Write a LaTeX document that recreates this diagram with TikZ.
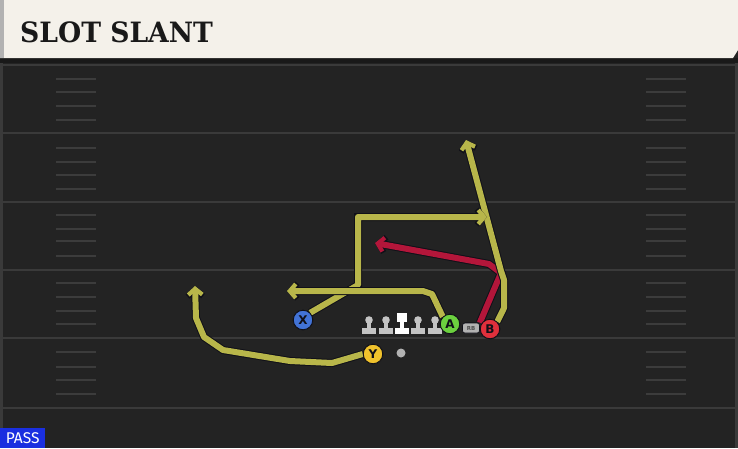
\documentclass[tikz,border=0pt]{standalone}
\usepackage{fontspec}
\setmainfont{DejaVu Sans}
\newfontfamily\titlefont{DejaVu Serif}
\newfontfamily\passfont{Fira Sans}
\usetikzlibrary{arrows.meta}
\definecolor{fieldbg}{HTML}{232323}
\definecolor{yardc}{HTML}{3A3A3A}
\definecolor{hashc}{HTML}{3C3C3C}
\definecolor{cream}{HTML}{F4F1EA}
\definecolor{routey}{HTML}{B8B64A}
\definecolor{router}{HTML}{B3163A}
\definecolor{outl}{HTML}{101018}
\definecolor{pblue}{HTML}{4273D6}
\definecolor{pgreen}{HTML}{6CD13F}
\definecolor{pred}{HTML}{E0303C}
\definecolor{pyellow}{HTML}{F0C22C}
\definecolor{passblue}{HTML}{1A2FE0}
\definecolor{linec}{HTML}{C4C4C4}
\tikzset{
  route/.style={line width=6pt, line join=round, -{Straight Barb[length=6pt,width=14pt,line width=4.2pt]},
    preaction={draw=outl, line width=8pt, -{Straight Barb[length=6.5pt,width=15.5pt,line width=5.8pt]}}},
  yroute/.style={route, draw=routey},
  rroute/.style={route, draw=router},
  player/.style={circle, draw=outl, line width=0.9pt, minimum size=19.5pt, inner sep=0pt, font=\bfseries\fontsize{12}{12}\selectfont, text=outl},
  rbbox/.style={fill=gray!60, draw=outl, line width=0.6pt, rounded corners=2.5pt, minimum width=17pt, minimum height=10pt, inner sep=0pt, font=\bfseries\fontsize{5.5}{5.5}\selectfont, text=black!70},
  yardline/.style={draw=yardc, line width=2pt},
  hashmark/.style={draw=hashc, line width=1.6pt},
  lineman/.style={fill=linec}
}
\begin{document}
\begin{tikzpicture}[x=1pt,y=-1pt]
\useasboundingbox (0,0) rectangle (738,448);
% field
\fill[fieldbg] (0,0) rectangle (738,448);
\fill[yardc] (0,58) rectangle (3,448);
\fill[yardc] (735,58) rectangle (738,448);
% yard lines
\foreach \y in {133,202,270,338,408} \draw[yardline] (0,\y) -- (738,\y);
\draw[yardline] (0,65) -- (738,65);
% hash marks
\foreach \y in {79,92,106,120,148,162,175,189,215,229,241,256,283,297,311,324,352,367,380,394} {
  \draw[hashmark] (56,\y) -- (96,\y);
  \draw[hashmark] (646,\y) -- (686,\y);
}
% header
\fill[black!90] (0,58) rectangle (738,63);
\fill[cream] (0,0) -- (738,0) -- (738,50) -- (733,58) -- (0,58) -- cycle;
\fill[gray!60] (0,0) rectangle (4,58);
\node[anchor=west, inner sep=0pt, text=black!90, font=\titlefont\bfseries\fontsize{28}{28}\selectfont, xscale=0.95] (title) at (20,32.5) {SLOT SLANT};
% PASS
\node[fill=passblue, anchor=south west, inner sep=0pt, minimum width=45pt, minimum height=20pt, text=white, font=\passfont\fontsize{15.5}{15.5}\selectfont] (pass) at (0,448) {PASS};
% players
\node[player, fill=pblue] (X) at (303,320) {X};
\node[player, fill=pgreen] (A) at (450,324) {A};
\node[player, fill=pred] (B) at (490,329) {B};
\node[player, fill=pyellow] (Y) at (373,354) {Y};
\node[rbbox] (RB) at (471,328) {RB};
\fill[gray!60] (401,353) circle (4.5);
\node[inner sep=0pt, minimum size=0pt] (ball) at (401,353) {};
% linemen
\foreach \x in {369,386,418,435} {
  \fill[lineman] (\x,320) circle (3.8);
  \fill[lineman] (\x-2,320) rectangle (\x+2,329);
  \fill[lineman] (\x-7,328) rectangle (\x+7,334);
}
\fill[white] (397,313) rectangle (407,322);
\fill[white] (400,320) rectangle (404,329);
\fill[white] (395,328) rectangle (409,334);
% routes
\coordinate (xe) at (487,217);
\coordinate (ae) at (287,291);
\coordinate (be) at (466,140);
\coordinate (re) at (375,243);
\coordinate (ye) at (195,286);
\draw[rroute] (RB.north east) -- (501,273) -- (489,264) -- (re);
\draw[yroute] (B.north east) -- (504,308) -- (504,280) -- (501,271) -- (be);
\draw[yroute] (X.north east) -- (358,285) -- (358,217) -- (xe);
\draw[yroute] (A.north west) -- (432,294) -- (423,291) -- (ae);
\draw[yroute] (Y.west) -- (332,363) -- (290,361) -- (223,350) -- (204,337) -- (196,318) -- (ye);
% redraw players on top
\node[player, fill=pblue] at (X) {X};
\node[player, fill=pgreen] at (A) {A};
\node[player, fill=pred] at (B) {B};
\node[player, fill=pyellow] at (Y) {Y};
\node[rbbox] at (RB) {RB};
\end{tikzpicture}
\end{document}
